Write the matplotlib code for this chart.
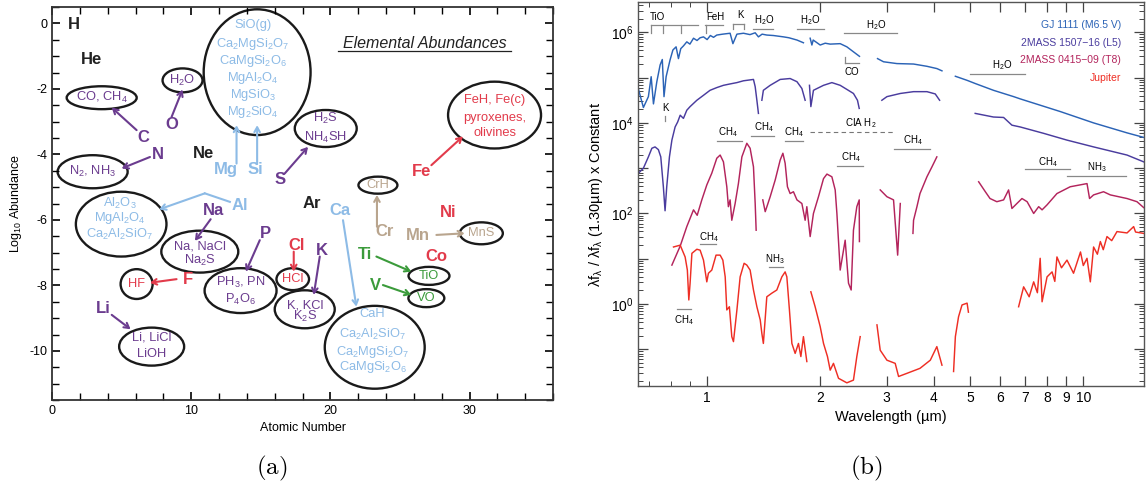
import numpy as np
import matplotlib
matplotlib.use('Agg')
import matplotlib.pyplot as plt
from matplotlib.patches import Ellipse
from matplotlib.ticker import MultipleLocator, FixedLocator, NullFormatter

plt.rcParams['font.family'] = ['Liberation Sans', 'DejaVu Sans']
plt.rcParams['mathtext.default'] = 'regular'
plt.rcParams['axes.unicode_minus'] = False

# ---------------- panel (a): elemental abundances ----------------
PUR, BLU, RED, TAN, GRN, BLK = '#6b3c8f', '#8dbbe6', '#e23b4b', '#b9a58e', '#3b9b3b', '#222222'

elem_name = ['H', 'He', 'C', 'N', 'O', 'Ne', 'Mg', 'Si', 'S', 'Al', 'Na', 'Ar', 'Ca', 'Fe', 'Ni',
             'Cr', 'Mn', 'Co', 'Ti', 'V', 'Cl', 'K', 'P', 'F', 'Li']
elem_x = [1.58, 2.85, 6.55, 7.63, 8.59, 10.91, 12.49, 14.64, 16.37, 13.50, 11.58, 18.64, 20.67, 26.54, 28.45,
          23.90, 26.30, 27.62, 22.47, 23.26, 17.57, 19.36, 15.36, 9.79, 3.68]
elem_y = [-0.03, -1.11, -3.47, -3.99, -3.08, -3.97, -4.46, -4.46, -4.77, -5.55, -5.72, -5.50, -5.72, -4.53, -5.78,
          -6.36, -6.49, -7.12, -7.07, -7.99, -6.77, -6.92, -6.43, -7.81, -8.70]
elem_col = [BLK, BLK, PUR, PUR, PUR, BLK, BLU, BLU, PUR, BLU, PUR, BLK, BLU, RED, RED,
            TAN, TAN, RED, GRN, GRN, RED, PUR, PUR, RED, PUR]

# ellipses round condensates: centre x, centre y, width, height
ell_x = [3.57, 9.38, 14.74, 2.92, 4.97, 19.67, 31.8, 23.42, 30.85, 10.62, 6.08, 13.55, 17.30, 18.16, 27.09, 26.90, 23.19, 7.16]
ell_y = [-2.27, -1.74, -1.49, -4.53, -6.13, -3.21, -2.80, -4.94, -6.41, -6.97, -7.96, -8.16, -7.81, -8.73, -7.71, -8.39, -9.89, -9.87]
ell_w = [5.03, 2.87, 7.68, 5.03, 6.51, 4.45, 6.68, 2.80, 3.09, 5.53, 2.30, 5.17, 2.34, 4.31, 2.94, 2.58, 7.18, 4.67]
ell_h = [0.70, 0.73, 3.84, 1.01, 1.98, 1.13, 2.04, 0.52, 0.67, 1.28, 0.91, 1.37, 0.67, 1.16, 0.55, 0.55, 2.53, 1.16]

mol_text = ['CO, CH$_4$', 'H$_2$O',
            'SiO(g)', 'Ca$_2$MgSi$_2$O$_7$', 'CaMgSi$_2$O$_6$', 'MgAl$_2$O$_4$', 'MgSiO$_3$', 'Mg$_2$SiO$_4$',
            'N$_2$, NH$_3$', 'Al$_2$O$_3$', 'MgAl$_2$O$_4$', 'Ca$_2$Al$_2$SiO$_7$',
            'H$_2$S', 'NH$_4$SH', 'FeH, Fe(c)', 'pyroxenes,', 'olivines', 'CrH', 'MnS',
            'Na, NaCl', 'Na$_2$S', 'HF', 'PH$_3$, PN', 'P$_4$O$_6$', 'HCl', 'K, KCl', 'K$_2$S',
            'TiO', 'VO', 'CaH', 'Ca$_2$Al$_2$SiO$_7$', 'Ca$_2$MgSi$_2$O$_7$', 'CaMgSi$_2$O$_6$',
            'Li, LiCl', 'LiOH']
mol_x = [3.57, 9.38, 14.43, 14.43, 14.43, 14.43, 14.43, 14.43, 2.92, 4.88, 4.88, 4.88,
         19.67, 19.67, 31.8, 31.8, 31.8, 23.42, 30.85, 10.62, 10.62, 6.08, 13.55, 13.55, 17.30,
         18.16, 18.16, 27.09, 26.90, 23.04, 23.04, 23.04, 23.04, 7.16, 7.16]
mol_y = [-2.27, -1.74, -0.06, -0.62, -1.15, -1.66, -2.20, -2.70, -4.53, -5.49, -5.95, -6.46,
         -2.91, -3.47, -2.35, -2.90, -3.35, -4.94, -6.41, -6.82, -7.23, -7.96, -7.92, -8.42, -7.81,
         -8.60, -8.95, -7.71, -8.39, -8.87, -9.51, -10.02, -10.48, -9.58, -10.09]
mol_col = [PUR, PUR, BLU, BLU, BLU, BLU, BLU, BLU, PUR, BLU, BLU, BLU,
           PUR, PUR, RED, RED, RED, TAN, TAN, PUR, PUR, RED, PUR, PUR, RED, PUR, PUR,
           GRN, GRN, BLU, BLU, BLU, BLU, PUR, PUR]

# arrows: start -> end
arr_x0 = [6.08, 8.59, 7.04, 13.26, 14.74, 16.73, 10.98, 27.26, 23.35, 27.62, 20.91, 11.40, 14.93, 17.37, 19.24, 8.95, 4.29, 23.31, 23.78]
arr_y0 = [-3.26, -2.86, -4.08, -4.28, -4.28, -4.58, -5.19, -4.33, -6.21, -6.46, -6.01, -5.98, -6.62, -6.97, -7.12, -7.81, -8.90, -7.12, -7.99]
arr_x1 = [4.29, 9.38, 5.00, 13.26, 14.74, 18.40, 7.70, 29.53, 23.35, 29.65, 21.87, 10.27, 13.93, 17.37, 18.81, 7.04, 5.65, 25.82, 25.82]
arr_y1 = [-2.57, -2.02, -4.43, -3.11, -3.11, -3.77, -5.68, -3.45, -5.24, -6.41, -8.65, -6.64, -7.58, -7.58, -8.29, -7.92, -9.34, -7.58, -8.29]
arr_col = [PUR, PUR, PUR, BLU, BLU, PUR, BLU, RED, TAN, TAN, BLU, PUR, PUR, RED, PUR, RED, PUR, GRN, GRN]

# ---------------- panel (b): spectra (wavelength in um, log10 of scaled flux) ----------------
nan = np.nan
gj_wl = [0.657, 0.677, 0.698, 0.710, 0.720, 0.735, 0.750, 0.760, 0.768, 0.778, 0.797, 0.811, 0.827, 0.839, 0.851,
         0.865, 0.883, 0.900, 0.920, 0.940, 0.958, 0.978, 1.000, 1.020, 1.040, 1.061, 1.100, 1.151, 1.171, 1.200,
         1.249, 1.300, 1.342, 1.369, 1.400, 1.441, 1.500, 1.596, 1.650, 1.733, 1.803, nan,
         1.879, 1.899, 1.914, 1.998, 2.060, 2.124, 2.258, 2.352, 2.449, 2.541, nan,
         2.838, 2.944, 3.196, 3.538, 3.840, 4.080, 4.210, nan,
         4.57, 4.91, 5.16, 5.77, 6.53, 6.80, 8.69, 10.65, 13.07, 14.47]
gj_logf = [4.74, 4.34, 4.58, 5.02, 4.42, 4.91, 5.28, 5.40, 4.58, 5.02, 5.39, 5.61, 5.68, 5.42, 5.64,
           5.70, 5.79, 5.74, 5.87, 5.82, 5.88, 5.90, 5.84, 5.93, 5.89, 5.94, 5.96, 5.98, 5.75, 5.96,
           5.98, 5.95, 5.99, 5.90, 5.96, 5.94, 5.93, 5.90, 5.88, 5.83, 5.77, nan,
           5.87, 5.72, 5.83, 5.72, 5.76, 5.74, 5.75, 5.68, 5.57, 5.47, nan,
           5.42, 5.35, 5.31, 5.30, 5.25, 5.20, 5.15, nan,
           5.03, 4.94, 4.87, 4.72, 4.58, 4.53, 4.25, 4.00, 3.78, 3.68]

l5_wl = [0.657, 0.677, 0.698, 0.713, 0.727, 0.742, 0.753, 0.765, 0.773, 0.781, 0.794, 0.806, 0.822, 0.835, 0.848,
         0.865, 0.883, 0.901, 0.939, 0.978, 1.018, 1.061, 1.105, 1.150, 1.200, 1.249, 1.328, 1.342, 1.356, 1.369, nan,
         1.398, 1.411, 1.471, 1.564, 1.662, 1.733, 1.786, 1.811, 1.822, nan,
         1.871, 1.887, 1.917, 2.039, 2.146, 2.258, 2.352, 2.449, 2.510, 2.537, nan,
         2.914, 3.006, 3.262, 3.538, 3.840, 4.040, 4.150, nan,
         5.16, 5.77, 6.14, 6.46, 6.80, 7.84, 9.05, 10.65, 13.07, 14.47]
l5_logf = [2.89, 3.00, 3.25, 3.44, 3.47, 3.41, 3.25, 2.59, 2.06, 2.59, 3.25, 3.62, 3.91, 4.02, 4.17,
           4.10, 4.28, 4.36, 4.50, 4.61, 4.72, 4.78, 4.83, 4.86, 4.89, 4.93, 4.96, 4.80, 4.50, 4.21, nan,
           4.50, 4.72, 4.83, 4.96, 4.98, 4.91, 4.76, 4.58, 4.50, nan,
           4.83, 4.36, 4.72, 4.83, 4.89, 4.83, 4.74, 4.65, 4.50, 4.32, nan,
           4.50, 4.58, 4.65, 4.69, 4.69, 4.64, 4.50, nan,
           4.21, 4.13, 4.12, 3.95, 3.91, 3.77, 3.62, 3.47, 3.29, 3.14]

t8_wl = [0.806, 0.848, 0.883, 0.920, 0.941, 0.968, 0.998, 1.029, 1.061, 1.083, 1.105, 1.128, 1.139, 1.151, 1.163,
         1.187, 1.211, 1.237, 1.275, 1.301, 1.328, 1.342, 1.350, nan,
         1.406, 1.427, 1.447, 1.471, 1.517, 1.564, 1.590, 1.612, 1.635, 1.662, 1.696, 1.733, 1.786, 1.822, 1.841,
         1.879, 1.917, 1.977, 2.039, 2.082, 2.146, 2.190, 2.213, 2.258, 2.328, 2.376, 2.415, 2.449, 2.500, 2.537, 2.540, nan,
         2.885, 3.006, 3.130, 3.210, 3.262, nan,
         3.525, 3.538, 3.612, 3.680, 3.840, 3.960, 4.080, nan,
         5.27, 5.49, 5.65, 5.89, 6.14, 6.33, 6.46, 6.66, 6.87, 7.09, 7.38, 7.61, 7.77, 8.01, 8.51, 9.23,
         10.23, 10.39, 10.65, 11.32, 11.80, 13.07, 13.89, 14.47]
t8_logf = [0.86, 1.28, 1.71, 2.08, 1.96, 2.30, 2.63, 2.89, 3.22, 3.29, 3.14, 2.59, 2.15, 2.30, 1.85,
           2.22, 2.66, 3.25, 3.55, 3.44, 3.03, 2.22, 1.63, nan,
           2.30, 2.04, 2.19, 2.37, 2.74, 3.18, 3.33, 3.11, 2.59, 2.44, 2.48, 2.30, 2.22, 1.85, 2.15,
           1.49, 2.00, 2.37, 2.77, 2.87, 2.81, 2.52, 2.00, 0.75, 1.41, 0.46, 0.31, 1.63, 2.15, 2.30, 1.38, nan,
           2.52, 2.37, 2.30, 1.08, 2.22, nan,
           1.56, 1.85, 2.15, 2.44, 2.81, 3.03, 3.25, nan,
           2.70, 2.48, 2.33, 2.26, 2.30, 2.52, 2.11, 2.22, 2.33, 2.26, 2.00, 2.15, 2.08, 2.19, 2.44, 2.59,
           2.66, 2.33, 2.41, 2.48, 2.41, 2.33, 2.26, 2.13]

jup_wl = [0.814, 0.848, 0.874, 0.886, 0.894, 0.901, 0.911, 0.939, 0.958, 0.978, 0.998, 1.008, 1.029, 1.056, 1.083,
          1.101, 1.117, 1.128, 1.146, 1.163, 1.175, 1.200, 1.224, 1.254, 1.275, 1.301, 1.328, 1.356, 1.384, 1.398,
          1.411, 1.441, 1.486, 1.532, 1.580, 1.612, 1.629, 1.655, 1.680, 1.714, 1.749, 1.775, 1.803, 1.841, nan,
          1.887, 1.937, 1.998, 2.039, 2.089, 2.124, 2.167, 2.235, 2.352, 2.449, 2.500, 2.552, nan,
          2.828, 2.885, 3.006, 3.162, 3.228, 3.398, 3.680, 3.920, 4.080, 4.210, nan,
          4.52, 4.57, 4.66, 4.76, 4.91, 4.95, nan,
          6.73, 6.94, 7.18, 7.38, 7.55, 7.68, 7.77, 8.01, 8.26, 8.40, 8.51, 8.75, 9.05, 9.42, 9.83, 10.0,
          10.23, 10.44, 10.65, 10.9, 11.10, 11.3, 11.56, 11.9, 12.29, 13.07, 13.61, 13.77, 14.47]
jup_logf = [1.26, 1.30, 1.04, 0.75, 0.09, 0.46, 1.12, 1.21, 1.19, 0.97, 0.49, 0.68, 0.75, 1.08, 1.08,
            0.97, 0.60, -0.13, -0.06, -0.72, -0.83, -0.13, 0.60, 0.90, 0.86, 0.75, 0.31, -0.06, -0.35, -0.65,
            -0.87, 0.16, 0.24, 0.31, 0.60, 0.71, 0.60, -0.13, -0.87, -1.09, -0.87, -1.16, -0.72, -1.27, nan,
            0.27, -0.06, -0.50, -0.87, -1.16, -1.46, -1.31, -1.64, -1.74, -1.68, -1.16, -0.72, nan,
            -0.46, -1.02, -1.24, -1.31, -1.60, -1.53, -1.42, -1.24, -0.94, -1.35, nan,
            -1.49, -0.72, -0.28, -0.02, 0.02, -0.18, nan,
            -0.06, 0.38, 0.16, 0.49, 0.25, 1.01, 0.05, 0.60, 0.71, 0.50, 1.04, 0.80, 0.97, 0.68, 1.15, 0.85,
            1.01, 0.49, 1.26, 1.10, 1.38, 1.20, 1.49, 1.40, 1.60, 1.57, 1.71, 1.59, 1.56]

series_name = ['GJ 1111 (M6.5 V)', '2MASS 1507\u221216 (L5)', '2MASS 0415\u221209 (T8)', 'Jupiter']
series_col = ['#2b63b6', '#4a3c9e', '#b3245c', '#ee2e24']

# band labels: text, text x (um), text y (axes frac), bar x0, bar x1, bar y (axes frac)
band_text = ['TiO', 'FeH', 'K', 'H$_2$O', 'H$_2$O', 'H$_2$O', 'CO', 'H$_2$O', 'K',
             'CH$_4$', 'CH$_4$', 'CH$_4$', 'CIA H$_2$', 'CH$_4$', 'CH$_4$', 'CH$_4$', 'NH$_3$',
             'CH$_4$', 'NH$_3$', 'CH$_4$']
band_tx = [0.737, 1.05, 1.224, 1.418, 1.88, 2.82, 2.43, 6.07, 0.773,
           1.139, 1.412, 1.70, 2.56, 3.52, 2.41, 8.03, 10.86, 1.008, 1.516, 0.868]
band_ty = [0.961, 0.961, 0.966, 0.953, 0.953, 0.940, 0.819, 0.836, 0.724,
           0.660, 0.674, 0.660, 0.684, 0.641, 0.597, 0.584, 0.571, 0.389, 0.330, 0.172]
band_x0 = [0.710, 0.988, 1.173, 1.323, 1.734, 2.31, 2.32, 5.00, nan,
           1.061, 1.309, 1.612, 1.875, 3.14, 2.22, 7.02, 9.05, 0.958, 1.456, 0.834]
band_x1 = [0.946, 1.103, 1.254, 1.500, 2.04, 3.20, 2.54, 6.99, nan,
           1.237, 1.509, 1.798, 3.16, 3.92, 2.60, 9.20, 13.0, 1.056, 1.590, 0.905]
band_y = [0.940, 0.940, 0.943, 0.930, 0.930, 0.918, 0.840, 0.8125, nan,
          0.639, 0.652, 0.639, 0.662, 0.617, 0.573, 0.564, 0.547, 0.369, 0.311, 0.200]

fig = plt.figure(figsize=(11.47, 4.94), dpi=100)

# ---------- (a) ----------
ax = fig.add_axes([52 / 1147, 94 / 494, 501 / 1147, 393 / 494])
ax.set_xlim(0, 36)
ax.set_ylim(-11.5, 0.5)
for x, y, w, h in zip(ell_x, ell_y, ell_w, ell_h):
    ax.add_patch(Ellipse((x, y), w, h, fill=False, ec='#1a1a1a', lw=1.7))
for t, x, y, c in zip(mol_text, mol_x, mol_y, mol_col):
    ax.text(x, y, t, color=c, fontsize=9.3, ha='center', va='center')
for t, x, y, c in zip(elem_name, elem_x, elem_y, elem_col):
    ax.text(x, y, t, color=c, fontsize=12, fontweight='bold', ha='center', va='center')
for x0, y0, x1, y1, c in zip(arr_x0, arr_y0, arr_x1, arr_y1, arr_col):
    ax.annotate('', xy=(x1, y1), xytext=(x0, y0),
                arrowprops=dict(arrowstyle='->,head_length=0.35,head_width=0.2', color=c, lw=1.5,
                                shrinkA=0, shrinkB=0))
# bent part of the Al arrow
ax.plot([12.78, 10.98], [-5.45, -5.19], color=BLU, lw=1.5)
ax.text(26.78, -0.60, 'Elemental Abundances', fontsize=11.5, style='italic', ha='center', va='center', color='#222')
ax.plot([20.55, 33.0], [-0.84, -0.84], color='#222', lw=0.9)

ax.xaxis.set_major_locator(MultipleLocator(10))
ax.xaxis.set_minor_locator(MultipleLocator(2))
ax.yaxis.set_major_locator(MultipleLocator(2))
ax.yaxis.set_minor_locator(MultipleLocator(0.5))
ax.tick_params(which='both', direction='in', top=True, right=True, labelsize=9)
ax.tick_params(which='major', length=6, width=1.2)
ax.tick_params(which='minor', length=5, width=1.0)
for s in ax.spines.values():
    s.set_linewidth(1.3)
    s.set_color('#333333')
ax.set_xlabel('Atomic Number', fontsize=9)
ax.set_ylabel('Log$_{10}$ Abundance', fontsize=9, labelpad=4)

# ---------- (b) ----------
bx = fig.add_axes([638 / 1147, 108 / 494, 506 / 1147, 384 / 494])
for wl, lf, c in zip([gj_wl, l5_wl, t8_wl, jup_wl], [gj_logf, l5_logf, t8_logf, jup_logf], series_col):
    bx.plot(np.array(wl), 10 ** np.array(lf), color=c, lw=1.05)
bx.set_xscale('log')
bx.set_yscale('log')
bx.set_xlim(0.655, 14.5)
bx.set_ylim(10 ** -1.81, 10 ** 6.67)

bx.xaxis.set_major_locator(FixedLocator([1, 2, 3, 4, 5, 6, 7, 8, 9, 10]))
bx.xaxis.set_minor_locator(FixedLocator([0.7, 0.8, 0.9]))
bx.set_xticklabels(['1', '2', '3', '4', '5', '6', '7', '8', '9', '10'])
bx.xaxis.set_minor_formatter(NullFormatter())
yt = [0.1, 1, 10, 100, 1e3, 1e4, 1e5, 1e6]
bx.yaxis.set_major_locator(FixedLocator(yt))
bx.set_yticklabels(['', '$10^0$', '', '$10^2$', '', '$10^4$', '', '$10^6$'])
bx.yaxis.set_minor_locator(matplotlib.ticker.LogLocator(base=10, subs=np.arange(2, 10)))
bx.yaxis.set_minor_formatter(NullFormatter())
bx.tick_params(which='both', direction='in', top=True, right=True, labelsize=10, color='#444')
bx.tick_params(which='major', length=7, width=0.9)
bx.tick_params(which='minor', length=3.5, width=0.7)
for s in bx.spines.values():
    s.set_linewidth(1.0)
    s.set_color('#555555')
bx.set_xlabel('Wavelength (\u00b5m)', fontsize=10.5)
bx.set_ylabel('$\\lambda$f$_\\lambda$ / $\\lambda$f$_\\lambda$ (1.30\u00b5m) x Constant', fontsize=10.5)

tr = bx.get_xaxis_transform()
for t, tx, ty, x0, x1, y in zip(band_text, band_tx, band_ty, band_x0, band_x1, band_y):
    bx.text(tx, ty, t, transform=tr, fontsize=7, ha='center', va='center')
    if t == 'CIA H$_2$':
        bx.plot([x0, x1], [y, y], transform=tr, color='#777', lw=0.8, ls=(0, (4, 3)))
    elif not np.isnan(x0):
        bx.plot([x0, x1], [y, y], transform=tr, color='#888', lw=0.9)
# bracket ticks
tick_x = [0.711, 0.762, 0.851, 0.992, 1.173, 1.254]
tick_top = [0.940, 0.940, 0.940, 0.940, 0.943, 0.943]
tick_bot = [0.919, 0.919, 0.919, 0.919, 0.930, 0.930]
for x, y0, y1 in zip(tick_x, tick_top, tick_bot):
    bx.plot([x, x], [y0, y1], transform=tr, color='#888', lw=0.9)
bx.plot([2.32, 2.32], [0.858, 0.840], transform=tr, color='#888', lw=0.9)
bx.plot([0.773, 0.773], [0.703, 0.690], transform=tr, color='#888', lw=0.9)

for i, (n, c) in enumerate(zip(series_name, series_col)):
    bx.text(0.955, 0.940 - i * 0.046, n, transform=bx.transAxes, color=c, fontsize=7.5, ha='right', va='center')

fig.text(272 / 1147, 1 - 468 / 494, r'$\mathrm{(a)}$', math_fontfamily='cm', fontsize=18, ha='center', va='center')
fig.text(866 / 1147, 1 - 468 / 494, r'$\mathrm{(b)}$', math_fontfamily='cm', fontsize=18, ha='center', va='center')

fig.savefig('out.png', dpi=100)
